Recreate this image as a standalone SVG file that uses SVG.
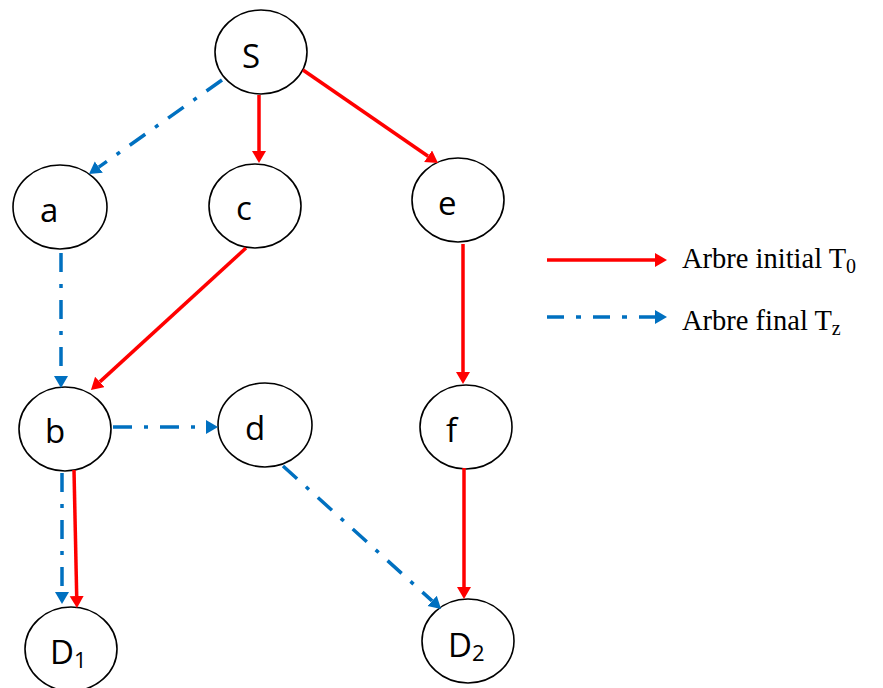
<svg xmlns="http://www.w3.org/2000/svg" width="883" height="688" viewBox="0 0 883 688">
<style>
.node ellipse{fill:#fff;stroke:#000;stroke-width:1.6}
.lbl{font-family:"Open Sans","Liberation Sans",sans-serif;font-size:33px;fill:#000}
.red{stroke:#FF0000;stroke-width:3.5;fill:none}
.blue{stroke:#0070C0;stroke-width:3.5;fill:none;stroke-dasharray:19 12 4 12}
.leg{font-family:"Liberation Serif","Times New Roman",serif;font-size:28.5px;fill:#000}
</style>
<defs>
<marker id="ar" markerUnits="userSpaceOnUse" markerWidth="13" markerHeight="15" refX="0" refY="7" orient="auto" viewBox="0 0 13 15">
<path d="M0,0 L12,7 L0,14 z" fill="#FF0000"/>
</marker>
<marker id="ab" markerUnits="userSpaceOnUse" markerWidth="13" markerHeight="15" refX="0" refY="7" orient="auto" viewBox="0 0 13 15">
<path d="M0,0 L12,7 L0,14 z" fill="#0070C0"/>
</marker>
</defs>
<rect width="883" height="688" fill="#fff"/>
<g id="nodes">
<g id="S" class="node"><ellipse cx="261" cy="52" rx="46" ry="42"/><text class="lbl" x="242" y="68">S</text></g>
<g id="a" class="node"><ellipse cx="60" cy="207" rx="47" ry="42"/><text class="lbl" x="40" y="222">a</text></g>
<g id="c" class="node"><ellipse cx="255" cy="206" rx="46" ry="42"/><text class="lbl" x="236" y="220">c</text></g>
<g id="e" class="node"><ellipse cx="458" cy="200" rx="46" ry="42"/><text class="lbl" x="438" y="215">e</text></g>
<g id="b" class="node"><ellipse cx="65" cy="429" rx="46" ry="42"/><text class="lbl" x="45" y="443">b</text></g>
<g id="d" class="node"><ellipse cx="265" cy="425" rx="47" ry="42"/><text class="lbl" x="245" y="440">d</text></g>
<g id="f" class="node"><ellipse cx="466" cy="427" rx="46" ry="42"/><text class="lbl" x="446" y="442">f</text></g>
<g id="D1" class="node"><ellipse cx="71" cy="649" rx="46" ry="42"/><text class="lbl" x="50" y="664">D<tspan font-size="22" dy="4">1</tspan></text></g>
<g id="D2" class="node"><ellipse cx="468" cy="641" rx="46" ry="42"/><text class="lbl" x="448" y="657">D<tspan font-size="22" dy="4">2</tspan></text></g>
</g>
<g id="connectors">
<line class="red" x1="259" y1="95" x2="259" y2="151" marker-end="url(#ar)"/>
<line class="red" x1="303" y1="70" x2="428.1" y2="156.2" marker-end="url(#ar)"/>
<line class="red" x1="246" y1="248" x2="99.8" y2="381.9" marker-end="url(#ar)"/>
<line class="red" x1="463" y1="244" x2="463" y2="372" marker-end="url(#ar)"/>
<line class="red" x1="464" y1="468" x2="464" y2="587" marker-end="url(#ar)"/>
<line class="red" x1="74" y1="470" x2="76.7" y2="596" marker-end="url(#ar)"/>
<line class="blue" x1="222" y1="80" x2="98.8" y2="167.1" marker-end="url(#ab)"/>
<line class="blue" x1="61" y1="253" x2="61" y2="376" marker-end="url(#ab)"/>
<line class="blue" x1="113" y1="427" x2="206" y2="427" marker-end="url(#ab)"/>
<line class="blue" x1="62" y1="473" x2="62" y2="592" marker-end="url(#ab)"/>
<line class="blue" x1="283" y1="466" x2="432.1" y2="600.9" marker-end="url(#ab)"/>
</g>
<g id="legend">
<line class="red" x1="547" y1="260" x2="655" y2="260" marker-end="url(#ar)"/>
<text class="leg" x="682" y="268">Arbre initial T<tspan font-size="20" dy="5">0</tspan></text>
<line class="blue" x1="547" y1="317" x2="655" y2="317" style="stroke-dasharray:17 12 5 12" marker-end="url(#ab)"/>
<text class="leg" x="682" y="330">Arbre final T<tspan font-size="20" dy="5">z</tspan></text>
</g>
</svg>
